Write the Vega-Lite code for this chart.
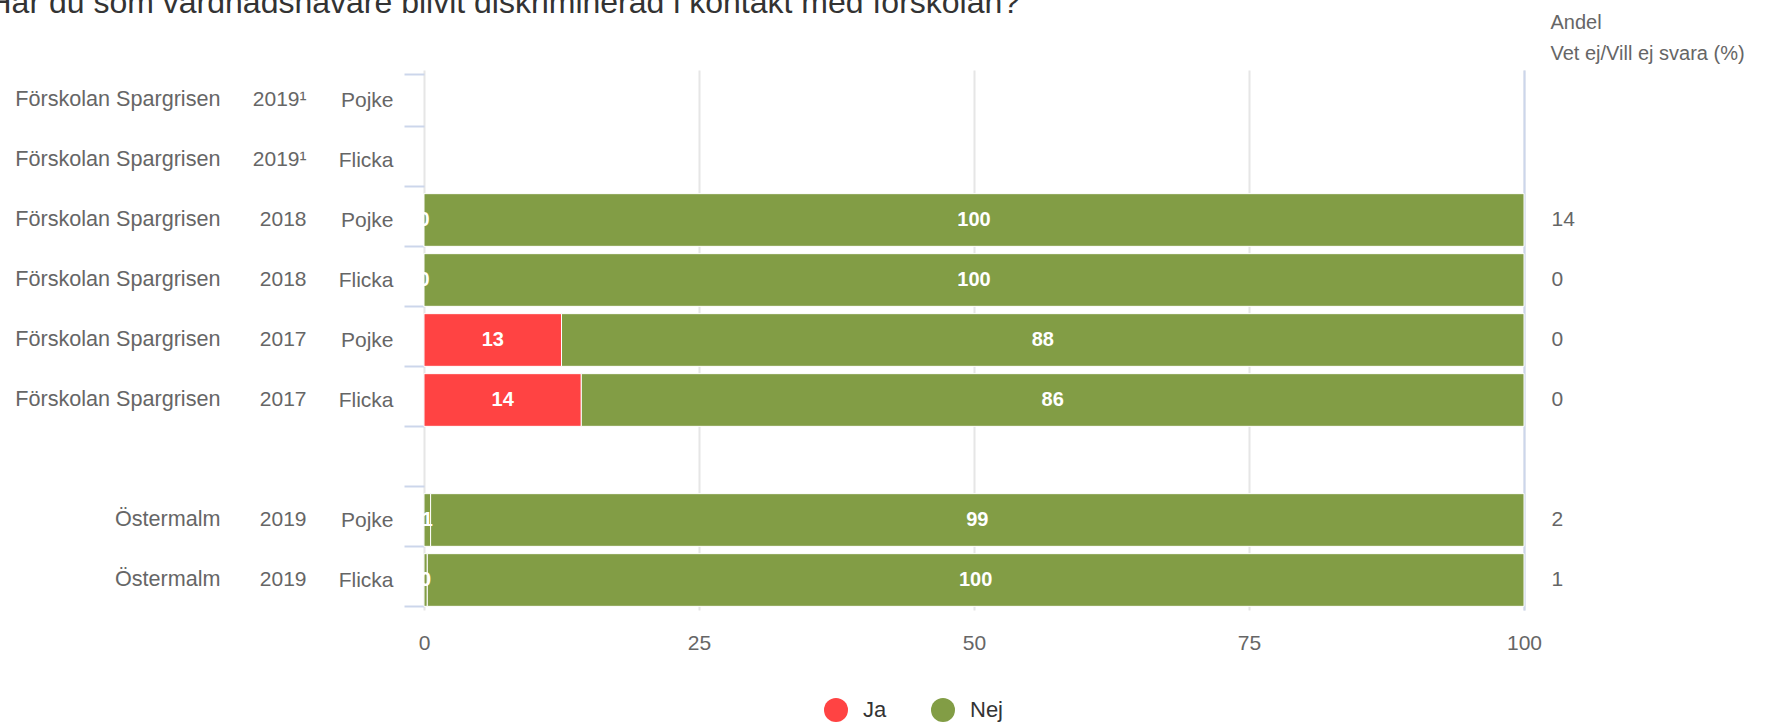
{
  "$schema": "https://vega.github.io/schema/vega-lite/v6.json",
  "autosize": {"type": "none"},
  "width": 1100,
  "height": 540,
  "padding": {"left": 424, "top": 70, "right": 265, "bottom": 113},
  "background": "white",
  "config": {
    "view": {"stroke": null},
    "font": "Liberation Sans",
    "axis": {"labelFont": "Liberation Sans", "titleFont": "Liberation Sans", "labelLimit": 0}
  },
  "data": {
    "values": [
      {"key": "Förskolan Spargrisen|2018|Pojke|14", "cat": "Ja", "val": 0},
      {"key": "Förskolan Spargrisen|2018|Pojke|14", "cat": "Nej", "val": 100},
      {"key": "Förskolan Spargrisen|2018|Flicka|0", "cat": "Ja", "val": 0},
      {"key": "Förskolan Spargrisen|2018|Flicka|0", "cat": "Nej", "val": 100},
      {"key": "Förskolan Spargrisen|2017|Pojke|0", "cat": "Ja", "val": 12.5},
      {"key": "Förskolan Spargrisen|2017|Pojke|0", "cat": "Nej", "val": 87.5},
      {"key": "Förskolan Spargrisen|2017|Flicka|0", "cat": "Ja", "val": 14.3},
      {"key": "Förskolan Spargrisen|2017|Flicka|0", "cat": "Nej", "val": 85.7},
      {"key": "Östermalm|2019|Pojke|2", "cat": "Ja", "val": 0.6},
      {"key": "Östermalm|2019|Pojke|2", "cat": "Nej", "val": 99.4},
      {"key": "Östermalm|2019|Flicka|1", "cat": "Ja", "val": 0.3},
      {"key": "Östermalm|2019|Flicka|1", "cat": "Nej", "val": 99.7}
    ]
  },
  "resolve": {"scale": {"y": "shared"}, "axis": {"y": "independent"}},
  "layer": [
    {
      "mark": {"type": "bar", "stroke": "white", "strokeWidth": 1},
      "encoding": {
        "y": {
          "field": "key", "type": "nominal", "sort": null,
          "scale": {
            "domain": [
              "Förskolan Spargrisen|2019¹|Pojke|",
              "Förskolan Spargrisen|2019¹|Flicka|",
              "Förskolan Spargrisen|2018|Pojke|14",
              "Förskolan Spargrisen|2018|Flicka|0",
              "Förskolan Spargrisen|2017|Pojke|0",
              "Förskolan Spargrisen|2017|Flicka|0",
              "|||",
              "Östermalm|2019|Pojke|2",
              "Östermalm|2019|Flicka|1"
            ],
            "paddingInner": 0.122, "paddingOuter": 0.061
          },
          "axis": {
            "orient": "left", "title": null, "domain": false, "grid": false,
            "ticks": true, "tickBand": "extent", "tickSize": 20, "tickColor": "#ccd6eb", "tickWidth": 2,
            "labelPadding": 11, "labelFontSize": 21, "labelColor": "#666666",
            "labelExpr": "split(datum.value, '|')[2]"
          }
        },
        "x": {
          "field": "val", "type": "quantitative", "stack": "zero",
          "scale": {"domain": [0, 100], "nice": false},
          "axis": {
            "orient": "bottom", "title": null, "values": [0, 25, 50, 75, 100],
            "grid": true, "gridColor": "#e6e6e6", "gridWidth": 2,
            "domain": false, "ticks": false, "labelFlush": false,
            "labelPadding": 22, "labelFontSize": 21, "labelColor": "#666666"
          }
        },
        "color": {
          "condition": {"test": "indexof(datum.key, 'Östermalm') == 0", "value": "#829d45"},
          "field": "cat", "type": "nominal",
          "scale": {"domain": ["Ja", "Nej"], "range": ["#ff4343", "#829d45"]},
          "legend": {
            "title": null, "orient": "none", "legendX": 400, "legendY": 628,
            "direction": "horizontal", "symbolType": "circle", "symbolSize": 576,
            "symbolStrokeWidth": 0, "labelFontSize": 22, "labelColor": "#333333",
            "labelOffset": 15, "columnPadding": 44, "padding": 0
          }
        },
        "order": {"field": "cat", "sort": "ascending"}
      }
    },
    {
      "transform": [
        {"stack": "val", "groupby": ["key"], "sort": [{"field": "cat"}], "as": ["v0", "v1"]},
        {"calculate": "(datum.v0 + datum.v1) / 2", "as": "labelPos"}
      ],
      "mark": {"type": "text", "color": "white", "fontWeight": "bold", "fontSize": 20, "align": "center", "baseline": "middle"},
      "encoding": {
        "y": {
          "field": "key", "type": "nominal", "sort": null,
          "axis": {
            "orient": "left", "title": null, "domain": false, "grid": false, "ticks": false,
            "labelPadding": 118, "labelFontSize": 21, "labelColor": "#666666",
            "labelExpr": "split(datum.value, '|')[1]"
          }
        },
        "x": {"field": "labelPos", "type": "quantitative"},
        "text": {"field": "val", "type": "quantitative", "format": ".0f"}
      }
    },
    {
      "mark": {"type": "tick", "opacity": 0},
      "encoding": {
        "y": {
          "field": "key", "type": "nominal", "sort": null,
          "axis": {
            "orient": "left", "domain": false, "grid": false, "ticks": false,
            "labelPadding": 204, "labelFontSize": 21.6, "labelColor": "#666666",
            "labelExpr": "split(datum.value, '|')[0]",
            "title": "Har du som vårdnadshavare blivit diskriminerad i kontakt med förskolan?",
            "titleAngle": 0, "titleAlign": "left", "titleBaseline": "alphabetic",
            "titleX": -436, "titleY": -58, "titleFontSize": 32, "titleFontWeight": "normal",
            "titleColor": "#333333"
          }
        },
        "x": {"field": "val", "type": "quantitative"}
      }
    },
    {
      "mark": {"type": "tick", "opacity": 0},
      "encoding": {
        "y": {
          "field": "key", "type": "nominal", "sort": null,
          "axis": {
            "orient": "right", "domain": true, "domainColor": "#ccd6eb", "domainWidth": 2,
            "grid": false, "ticks": false,
            "labelPadding": 27, "labelFontSize": 21, "labelColor": "#666666", "labelAlign": "left",
            "labelExpr": "split(datum.value, '|')[3]",
            "title": ["Andel", "Vet ej/Vill ej svara (%)"],
            "titleAngle": 0, "titleAlign": "left", "titleBaseline": "alphabetic",
            "titleX": 26, "titleY": -42, "titleFontSize": 20, "titleFontWeight": "normal",
            "titleColor": "#666666", "titleLineHeight": 31
          }
        },
        "x": {"field": "val", "type": "quantitative"}
      }
    }
  ]
}
